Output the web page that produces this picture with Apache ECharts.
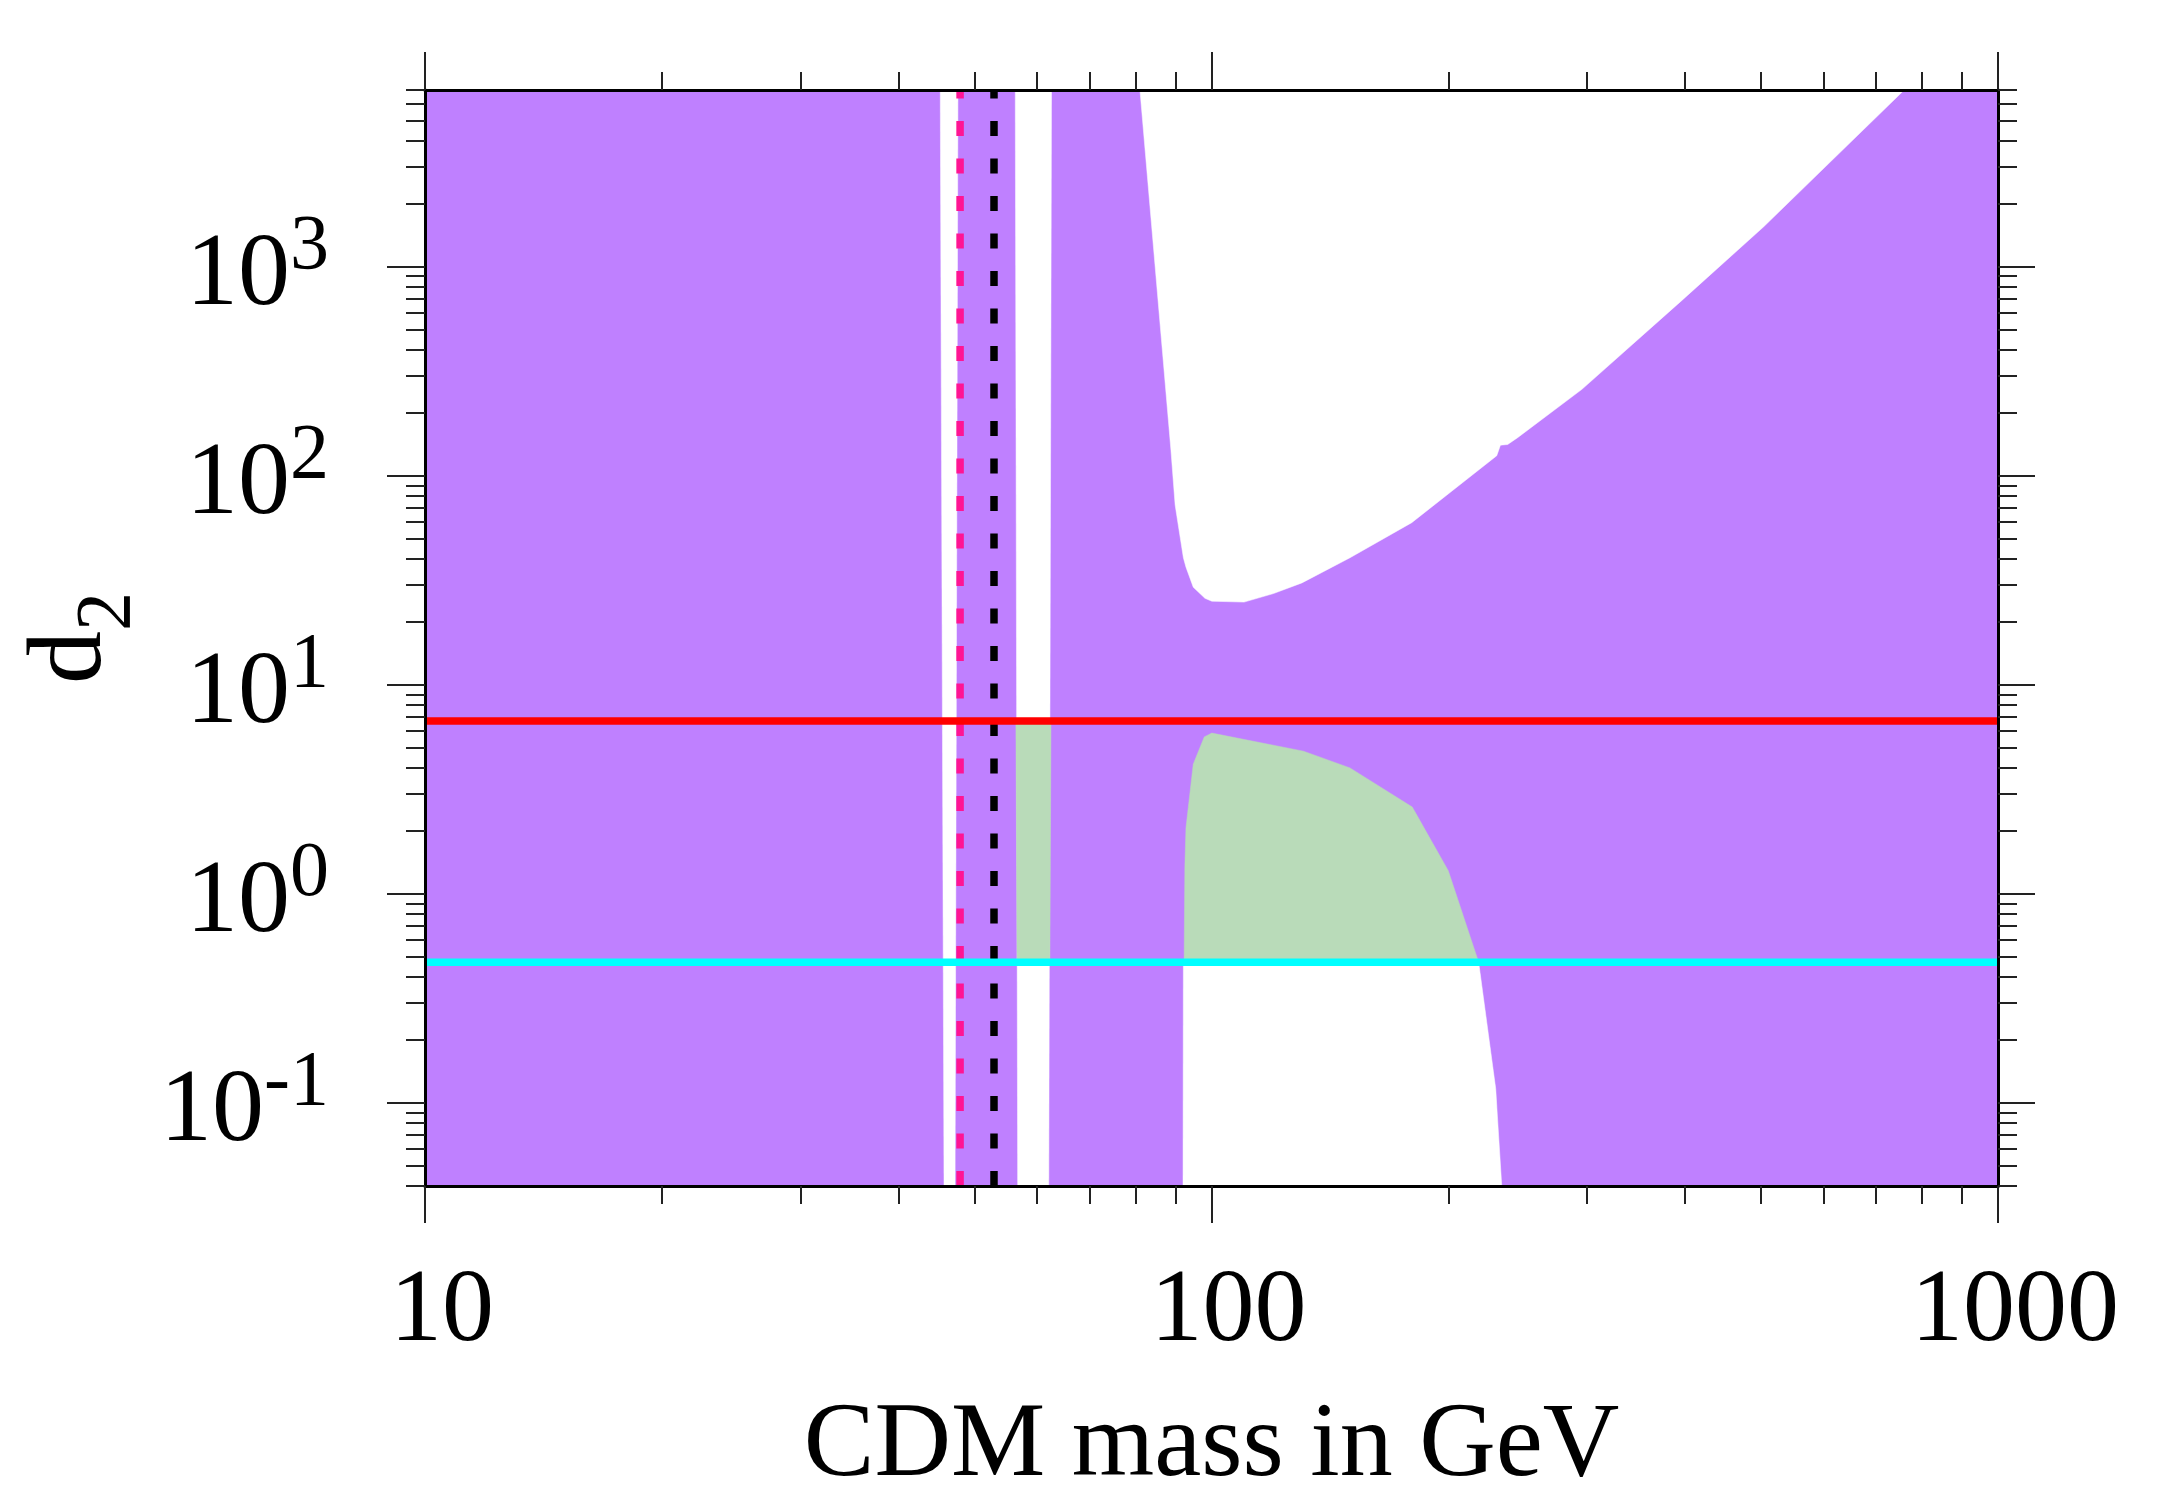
<!DOCTYPE html>
<html lang="en" style="height: 100%">
<head>
  <meta charset="utf-8">
</head>
<body style="height: 100%; margin: 0; background: #fff">
  <div id="container" style="height: 100%"></div>

  <script type="text/javascript" src="https://fastly.jsdelivr.net/npm/echarts@6/dist/echarts.min.js"></script>
  <script type="text/javascript">
    // axis ranges and ticks
    var xRange = [10, 1000];
    var yRange = [0.04, 7000];
    var xMajorTicks = [10, 100, 1000];
    var xMinorTicks = [20, 30, 40, 50, 60, 70, 80, 90, 200, 300, 400, 500, 600, 700, 800, 900];
    var yMajorTicks = [0.1, 1, 10, 100, 1000];
    var yMinorTicks = [0.04, 0.05, 0.06, 0.07, 0.08, 0.09,
      0.2, 0.3, 0.4, 0.5, 0.6, 0.7, 0.8, 0.9,
      2, 3, 4, 5, 6, 7, 8, 9,
      20, 30, 40, 50, 60, 70, 80, 90,
      200, 300, 400, 500, 600, 700, 800, 900,
      2000, 3000, 4000, 5000, 6000, 7000];

    // regions, [mass, d2] vertices
    var zStripWhite = [[45.2, 7000], [47.6, 7000], [47.2, 0.04], [45.7, 0.04]];
    var higgsStripWhite = [[56.3, 7000], [62.6, 7000], [62.1, 0.04], [56.7, 0.04]];
    var higgsStripGreen = [[56.4, 6.71], [62.5, 6.71], [62.3, 0.4706], [56.6, 0.4706]];
    var upperWhite = [[81.1, 7000], [88.8, 132.7], [89.9, 72.4], [92.1, 40.5], [92.8, 36.5],
      [94.8, 29.3], [98.1, 25.9], [100.1, 25.1], [110.0, 24.85], [119.9, 27.3], [130.3, 30.7],
      [150.0, 40.5], [179.7, 59.6], [230.5, 124.6], [233, 140], [238, 141], [245, 152],
      [295.8, 259], [395.4, 684], [503.6, 1552], [760, 7000]];
    var lowerGreen = [[92.3, 0.4706], [92.5, 1.36], [92.8, 2.07], [94.8, 4.17], [97.9, 5.63],
      [100.1, 5.87], [130.9, 4.81], [150, 4.0], [180, 2.60], [200, 1.29], [218.6, 0.4706]];
    var lowerWhite = [[92.0, 0.04], [92.1, 0.4706], [218.6, 0.4706], [229.8, 0.117], [233.9, 0.04]];

    // horizontal and vertical reference lines
    var redLevel = 6.71;
    var cyanLevel = 0.4706;
    var pinkMass = 47.9;
    var blackMass = 52.9;

    var FONT = 'Liberation Serif';
    var PURPLE = '#BF80FF';
    var GREEN = '#B9DBB9';

    var dom = document.getElementById('container');
    var myChart = echarts.init(dom, null, { renderer: 'canvas' });

    function polygon(points, color, z) {
      return {
        type: 'custom',
        coordinateSystem: 'cartesian2d',
        silent: true,
        z: z,
        data: [points[0]],
        renderItem: function (params, api) {
          return {
            type: 'polygon',
            shape: { points: points.map(function (p) { return api.coord(p); }) },
            style: { fill: color, stroke: color, lineWidth: 0.5 }
          };
        }
      };
    }

    function line(points, color, width, dash, z) {
      return {
        type: 'line',
        data: points,
        symbol: 'none',
        silent: true,
        z: z,
        lineStyle: { color: color, width: width, type: dash, cap: 'butt' }
      };
    }

    function tickAxis(kind, position, ticks, len, showLine) {
      var range = kind === 'x' ? xRange : yRange;
      return {
        type: 'log',
        logBase: 10,
        position: position,
        min: range[0],
        max: range[1],
        z: 10,
        axisLine: { show: showLine, lineStyle: { color: '#000', width: 3 } },
        axisTick: {
          show: true, inside: false, length: len, customValues: ticks,
          lineStyle: { color: '#222', width: 2 }
        },
        axisLabel: { show: false },
        splitLine: { show: false },
        minorTick: { show: false }
      };
    }

    var xBottom = tickAxis('x', 'bottom', xMajorTicks, 37, true);
    xBottom.axisLabel = {
      show: true,
      customValues: xMajorTicks,
      margin: 75,
      padding: [0, 0, 0, 34],
      color: '#000',
      fontFamily: FONT,
      fontSize: 104,
      formatter: function (v) { return String(Math.round(v)); }
    };
    xBottom.name = 'CDM mass in GeV';
    xBottom.nameLocation = 'middle';
    xBottom.nameGap = 208;
    xBottom.nameTextStyle = { color: '#000', fontFamily: FONT, fontSize: 106 };

    var yLeft = tickAxis('y', 'left', yMajorTicks, 38, true);
    yLeft.axisLabel = {
      show: true,
      customValues: yMajorTicks,
      margin: 96,
      padding: [20, 0, 0, 0],
      formatter: function (v) {
        return '{b|10}{s|' + Math.round(Math.log10(v)) + '}';
      },
      rich: {
        b: { fontFamily: FONT, fontSize: 104, lineHeight: 136, color: '#000' },
        s: { fontFamily: FONT, fontSize: 78, lineHeight: 48, verticalAlign: 'top', color: '#000' }
      }
    };
    yLeft.name = '{d|d}{s|2}';
    yLeft.nameLocation = 'middle';
    yLeft.nameGap = 226;
    yLeft.nameTextStyle = {
      rich: {
        d: { fontFamily: FONT, fontSize: 106, lineHeight: 106, verticalAlign: 'top', color: '#000' },
        s: { fontFamily: FONT, fontSize: 78, lineHeight: 180, color: '#000' }
      }
    };

    var option = {
      animation: false,
      backgroundColor: '#fff',
      grid: {
        left: 425, right: 162, top: 90, bottom: 326,
        show: true, backgroundColor: PURPLE, borderWidth: 0,
        containLabel: false, outerBoundsMode: 'none'
      },
      xAxis: [
        xBottom,
        tickAxis('x', 'bottom', xMinorTicks, 18, false),
        tickAxis('x', 'top', xMajorTicks, 38, true),
        tickAxis('x', 'top', xMinorTicks, 18, false)
      ],
      yAxis: [
        yLeft,
        tickAxis('y', 'left', yMinorTicks, 19, false),
        tickAxis('y', 'right', yMajorTicks, 37, true),
        tickAxis('y', 'right', yMinorTicks, 19, false)
      ],
      series: [
        polygon(zStripWhite, '#fff', 2),
        polygon(higgsStripWhite, '#fff', 2),
        polygon(higgsStripGreen, GREEN, 3),
        polygon(upperWhite, '#fff', 2),
        polygon(lowerWhite, '#fff', 2),
        polygon(lowerGreen, GREEN, 3),
        line([[pinkMass, yRange[0]], [pinkMass, yRange[1]]], '#FF1493', 7.5, [15, 22.5], 4),
        line([[blackMass, yRange[0]], [blackMass, yRange[1]]], '#000', 7.5, [15, 22.5], 4),
        line([[xRange[0], redLevel], [xRange[1], redLevel]], '#FF0000', 7.5, 'solid', 5),
        line([[xRange[0], cyanLevel], [xRange[1], cyanLevel]], '#00FFFF', 7.5, 'solid', 5)
      ]
    };

    myChart.setOption(option);
    window.addEventListener('resize', myChart.resize);
  </script>
</body>
</html>
